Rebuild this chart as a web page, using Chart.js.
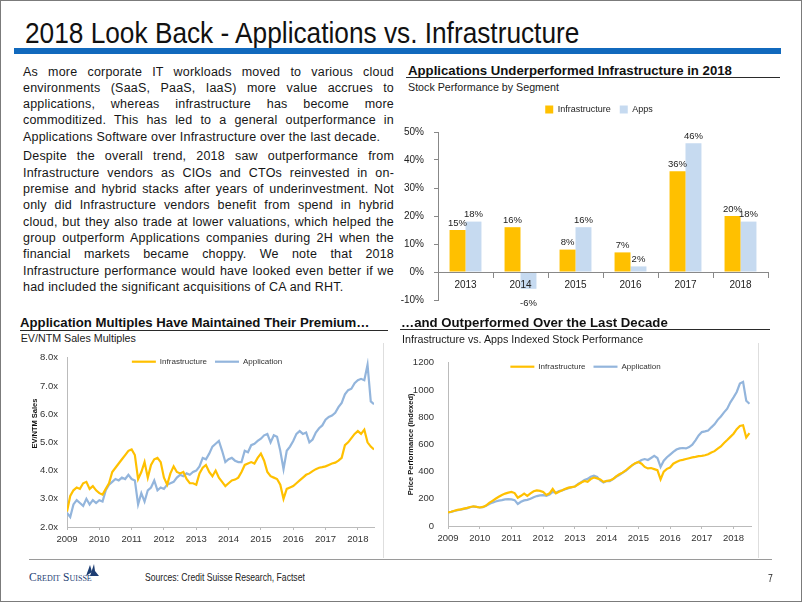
<!DOCTYPE html>
<html>
<head>
<meta charset="utf-8">
<title>2018 Look Back - Applications vs. Infrastructure</title>
<script src="https://cdn.jsdelivr.net/npm/chart.js@4.4.1/dist/chart.umd.min.js"></script>
<style>
  html, body { margin: 0; padding: 0; background: #fff; }
  #slide { position: relative; width: 802px; height: 602px; overflow: hidden;
           font-family: "Liberation Sans", Arial, sans-serif; color: #111; }
  .frame { position: absolute; left: 0; top: 0; width: 802px; height: 602px; box-sizing: border-box;
           border: 1px solid #7b7b7b; pointer-events: none; z-index: 5; }
  .title { position: absolute; left: 25px; top: 18.5px; font-size: 29px; line-height: 29px; white-space: nowrap;
           color: #111; transform: scaleX(0.905); transform-origin: 0 0; }
  .bluebar { position: absolute; left: 14px; top: 48px; width: 767px; height: 6px; background: #1169bd; }
  .text { position: absolute; left: 23px; top: 63.5px; width: 371px; font-size: 12.5px; line-height: 16.3px;
          letter-spacing: 0.2px; color: #161616; }
  .ln { text-align: justify; text-align-last: justify; }
  .ln.last { text-align: left; text-align-last: left; }
  .head { position: absolute; font-weight: bold; font-size: 13.2px; line-height: 13.2px; white-space: nowrap; color: #111; }
  .rule { position: absolute; height: 0; border-top: 1.5px solid #2a2a2a; }
  .sub { position: absolute; font-size: 10.7px; line-height: 10.7px; white-space: nowrap; color: #1a1a1a; }
  .box { position: absolute; }
  .vline { position: absolute; width: 0; border-left: 1px solid #dedede; }
  .foot { position: absolute; font-size: 10.5px; line-height: 12px; color: #222; white-space: nowrap;
          transform: scaleX(0.82); transform-origin: 0 0; }
  .logo { position: absolute; left: 29px; top: 570.5px; font-family: "Liberation Serif", serif; font-variant: small-caps;
          font-size: 11.5px; line-height: 12px; color: #1d3e73; white-space: nowrap; }
</style>
</head>
<body>
<div id="slide">
  <div class="frame"></div>
  <div class="title">2018 Look Back - Applications vs. Infrastructure</div>
  <div class="bluebar"></div>

  <div class="text">
    <div>
      <div class="ln">As more corporate IT workloads moved to various cloud</div>
      <div class="ln">environments (SaaS, PaaS, IaaS) more value accrues to</div>
      <div class="ln">applications, whereas infrastructure has become more</div>
      <div class="ln">commoditized. This has led to a general outperformance in</div>
      <div class="ln last">Applications Software over Infrastructure over the last decade.</div>
    </div>
    <div style="margin-top:3.5px">
      <div class="ln">Despite the overall trend, 2018 saw outperformance from</div>
      <div class="ln">Infrastructure vendors as CIOs and CTOs reinvested in on-</div>
      <div class="ln">premise and hybrid stacks after years of underinvestment. Not</div>
      <div class="ln">only did Infrastructure vendors benefit from spend in hybrid</div>
      <div class="ln">cloud, but they also trade at lower valuations, which helped the</div>
      <div class="ln">group outperform Applications companies during 2H when the</div>
      <div class="ln">financial markets became choppy. We note that 2018</div>
      <div class="ln">Infrastructure performance would have looked even better if we</div>
      <div class="ln last">had included the significant acquisitions of CA and RHT.</div>
    </div>
  </div>

  <div class="head" style="left:408px;top:63.8px">Applications Underperformed Infrastructure in 2018</div>
  <div class="rule" style="left:406px;top:76.5px;width:374px"></div>
  <div class="sub" style="left:408px;top:82.4px">Stock Performance by Segment</div>
  <div class="box" style="left:400px;top:96px;width:385px;height:220px"><canvas id="barChart"></canvas></div>

  <div class="head" style="left:20px;top:315.5px">Application Multiples Have Maintained Their Premium…</div>
  <div class="rule" style="left:20px;top:329.5px;width:368px"></div>
  <div class="sub" style="left:20.7px;top:333.2px">EV/NTM Sales Multiples</div>
  <div class="box" style="left:20px;top:343px;width:362px;height:212px"><canvas id="multChart"></canvas></div>

  <div class="head" style="left:401px;top:315.5px">…and Outperformed Over the Last Decade</div>
  <div class="rule" style="left:400px;top:329px;width:370px"></div>
  <div class="sub" style="left:402px;top:334px">Infrastructure vs. Apps Indexed Stock Performance</div>
  <div class="box" style="left:398px;top:343px;width:380px;height:212px"><canvas id="perfChart"></canvas></div>

  <div class="vline" style="left:383px;top:343px;height:215px"></div>
  <div class="vline" style="left:758px;top:343px;height:215px"></div>
  <div class="rule" style="left:29px;top:558.5px;width:743px;border-top-color:#9a9a9a"></div>

  <div class="logo">Credit Suisse</div>
  <svg style="position:absolute;left:84px;top:563px" width="16" height="14" viewBox="0 0 16 14">
    <path d="M2 13 L6 2 L8 9 Z" fill="#1d3e73"/>
    <path d="M6 13 L10 1 L11 8 L15 13 Z" fill="#1d3e73"/>
  </svg>
  <div class="foot" style="left:145px;top:571px">Sources: Credit Suisse Research, Factset</div>
  <div class="foot" style="left:768px;top:572px">7</div>
</div>

<script>
// Bar chart: yearly stock performance by segment (%)
const barYears = ['2013', '2014', '2015', '2016', '2017', '2018'];
const infraReturns = [15, 16, 8, 7, 36, 20];
const appsReturns = [18, -6, 16, 2, 46, 18];

// Time axis shared by both line charts (fractional years)
const dates = [
  2009.0, 2009.1, 2009.2, 2009.3, 2009.4, 2009.5, 2009.6, 2009.7, 2009.8, 2009.9,
  2010.0, 2010.1, 2010.2, 2010.3, 2010.4, 2010.5, 2010.6, 2010.7, 2010.8, 2010.9,
  2011.0, 2011.1, 2011.2, 2011.3, 2011.4, 2011.5, 2011.6, 2011.7, 2011.8, 2011.9,
  2012.0, 2012.1, 2012.2, 2012.3, 2012.4, 2012.5, 2012.6, 2012.7, 2012.8, 2012.9,
  2013.0, 2013.1, 2013.2, 2013.3, 2013.4, 2013.5, 2013.6, 2013.7, 2013.8, 2013.9,
  2014.0, 2014.1, 2014.2, 2014.3, 2014.4, 2014.5, 2014.6, 2014.7, 2014.8, 2014.9,
  2015.0, 2015.1, 2015.2, 2015.3, 2015.4, 2015.5, 2015.6, 2015.7, 2015.8, 2015.9,
  2016.0, 2016.1, 2016.2, 2016.3, 2016.4, 2016.5, 2016.6, 2016.7, 2016.8, 2016.9,
  2017.0, 2017.1, 2017.2, 2017.3, 2017.4, 2017.5, 2017.6, 2017.7, 2017.8, 2017.9,
  2018.0, 2018.1, 2018.2, 2018.3, 2018.4, 2018.5
];
const yearTicks = [2009, 2010, 2011, 2012, 2013, 2014, 2015, 2016, 2017, 2018];

// EV/NTM sales multiples
const infraMult = [
  2.55, 3.10, 3.30, 3.40, 3.35, 3.55, 3.60, 3.35, 3.45, 3.30,
  3.20, 3.15, 3.35, 3.55, 3.95, 4.10, 4.25, 4.40, 4.55, 4.70,
  4.75, 4.55, 3.70, 3.95, 4.30, 3.75, 4.20, 4.40, 4.45, 4.30,
  3.75, 3.50, 3.90, 4.15, 3.95, 3.90, 3.95, 3.70, 3.55, 3.55,
  3.50, 3.90, 4.10, 4.20, 3.95, 3.80, 4.00, 3.75, 3.60, 3.45,
  3.55, 3.65, 3.68, 3.75, 3.95, 4.20, 4.25, 4.30, 4.25, 4.45,
  4.60, 4.35, 3.95, 3.80, 3.75, 3.70, 3.50, 3.00, 3.35, 3.40,
  3.45, 3.55, 3.65, 3.75, 3.85, 3.90, 3.98, 4.05, 4.10, 4.12,
  4.15, 4.20, 4.25, 4.28, 4.35, 4.45, 4.90, 5.00, 5.15, 5.30,
  5.40, 5.30, 5.45, 5.00, 4.85, 4.75
];
const appMult = [
  2.50, 2.35, 2.80, 2.95, 2.85, 2.75, 3.00, 2.80, 2.95, 2.85,
  2.95, 2.90, 3.30, 3.50, 3.60, 3.70, 3.65, 3.75, 3.70, 3.85,
  3.70, 3.65, 2.80, 3.20, 2.90, 3.30, 3.40, 3.65, 3.30, 3.40,
  3.35, 3.50, 3.55, 3.60, 3.75, 3.85, 3.80, 3.90, 3.85, 3.95,
  4.00, 4.15, 4.45, 4.40, 4.60, 4.85, 4.95, 5.05, 4.70, 4.30,
  4.40, 4.45, 4.35, 4.30, 4.30, 4.70, 4.65, 4.90, 4.95, 5.05,
  5.13, 5.25, 5.30, 5.00, 5.25, 5.20, 4.70, 4.05, 4.70, 4.85,
  5.05, 5.30, 5.40, 5.30, 5.35, 5.00, 5.10, 5.35, 5.50, 5.60,
  5.80, 5.90, 5.95, 6.05, 6.25, 6.40, 6.70, 6.85, 6.90, 7.10,
  7.20, 7.25, 7.20, 7.75, 6.45, 6.35
];
const multTicks = [2, 3, 4, 5, 6, 7, 8];

// Indexed stock performance
const infraPerf = [
  100, 105, 112, 118, 122, 128, 133, 140, 145, 140,
  136, 140, 150, 170, 185, 200, 215, 228, 238, 245,
  250, 242, 208, 222, 238, 222, 240, 255, 262, 258,
  250, 228, 240, 272, 240, 252, 262, 273, 282, 286,
  290, 305, 320, 331, 325, 345, 356, 350, 342, 325,
  331, 335, 345, 365, 380, 392, 408, 428, 446, 462,
  470, 458, 434, 423, 426, 418, 410, 342, 400, 420,
  430, 458, 470, 481, 486, 492, 498, 504, 508, 513,
  515, 520, 527, 540, 550, 568, 585, 610, 632, 655,
  678, 712, 735, 740, 650, 682
];
const appPerf = [
  100, 104, 110, 116, 120, 126, 130, 138, 143, 140,
  136, 138, 148, 162, 172, 180, 186, 190, 196, 198,
  196, 190, 162, 178, 188, 192, 200, 212, 220, 225,
  227, 222, 232, 250, 244, 257, 262, 270, 278, 285,
  290, 310, 322, 338, 346, 362, 370, 360, 335, 320,
  331, 330, 345, 362, 375, 390, 405, 425, 446, 460,
  470, 485, 492, 485, 500, 515, 500, 434, 480, 505,
  525, 545, 562, 570, 573, 570, 580, 597, 630, 665,
  690, 695, 701, 725, 747, 780, 805, 835, 862, 909,
  945, 985, 1047, 1059, 920, 898
];
const perfTicks = [0, 200, 400, 600, 800, 1000, 1200];

const infraColor = '#ffc000';
const appLineColor = '#93b5dc';
const appBarColor = '#c6daf0';

Chart.defaults.font.family = '"Liberation Sans", Arial, sans-serif';
Chart.defaults.font.size = 10;
Chart.defaults.color = '#222';
Chart.defaults.animation = false;

// Fixed legend height (so the plot area lands where it should), drawn unclipped
function legendHeight(h, shiftX) {
  return {
    id: 'legendHeight',
    beforeInit(chart) {
      const legend = chart.legend;
      const fit = legend.fit;
      legend.fit = function () { fit.call(this); this.height = h; };
      legend.draw = function () {
        if (!this.options.display) return;
        const ctx = this.ctx;
        ctx.save();
        ctx.translate(shiftX || 0, 0);
        this._draw();
        ctx.restore();
      };
    }
  };
}

// Value labels above (or below) each bar
const barLabels = {
  id: 'barLabels',
  afterDatasetsDraw(chart) {
    const ctx = chart.ctx;
    ctx.save();
    ctx.font = '9.5px "Liberation Sans", Arial, sans-serif';
    ctx.fillStyle = '#222';
    ctx.textAlign = 'center';
    chart.data.datasets.forEach((ds, i) => {
      chart.getDatasetMeta(i).data.forEach((bar, j) => {
        const v = ds.data[j];
        const y = v >= 0 ? bar.y - 7 : bar.y + 15;
        ctx.fillText(v + '%', bar.x, y);
      });
    });
    ctx.restore();
  }
};

function points(xs, ys) {
  return xs.map((x, i) => ({ x: x, y: ys[i] }));
}

function onlyTicks(list) {
  return function (scale) {
    scale.ticks = list.map(v => ({ value: v }));
  };
}

new Chart(document.getElementById('barChart'), {
  type: 'bar',
  data: {
    labels: barYears,
    datasets: [
      { label: 'Infrastructure', data: infraReturns, backgroundColor: infraColor,
        categoryPercentage: 0.58, barPercentage: 1 },
      { label: 'Apps', data: appsReturns, backgroundColor: appBarColor,
        categoryPercentage: 0.58, barPercentage: 1 }
    ]
  },
  options: {
    responsive: true,
    maintainAspectRatio: false,
    layout: { padding: { top: 0, right: 17, bottom: 8, left: 0 } },
    plugins: {
      legend: {
        labels: { boxWidth: 8, boxHeight: 8, padding: 9, font: { size: 9 }, color: '#222' }
      },
      tooltip: { enabled: false }
    },
    scales: {
      x: {
        position: { y: 0 },
        grid: { offset: true, drawOnChartArea: false, tickLength: 5, color: '#888' },
        border: { color: '#888', z: 1 },
        ticks: { z: 1, padding: 2, font: { size: 10 }, color: '#222' },
        afterFit: s => { s.height = 0; }
      },
      y: {
        min: -10,
        max: 50,
        ticks: { stepSize: 10, padding: 10, callback: v => v + '%', font: { size: 10 }, color: '#222' },
        grid: { drawOnChartArea: false, tickLength: 4, color: '#888' },
        border: { color: '#888' },
        afterFit: s => { s.width = 38; }
      }
    }
  },
  plugins: [legendHeight(36, 15), barLabels]
});

function lineOptions(cfg) {
  return {
    responsive: true,
    maintainAspectRatio: false,
    layout: { padding: { top: 2, right: cfg.padRight, bottom: 0, left: 0 } },
    plugins: {
      legend: {
        labels: { usePointStyle: true, pointStyle: 'line', pointStyleWidth: 24, padding: 8,
                  font: { size: 8 }, color: '#333' }
      },
      tooltip: { enabled: false }
    },
    scales: {
      x: {
        type: 'linear',
        min: 2009,
        max: cfg.xMax,
        afterBuildTicks: onlyTicks(yearTicks),
        ticks: { callback: v => String(v), padding: 4, maxRotation: 0, font: { size: 9.5 }, color: '#333' },
        grid: { drawOnChartArea: false, tickLength: 3, color: '#bbb' },
        border: { color: '#bbb' },
        afterFit: s => { s.height = cfg.xHeight; }
      },
      y: {
        min: cfg.yMin,
        max: cfg.yMax,
        afterBuildTicks: onlyTicks(cfg.yTicks),
        ticks: { callback: cfg.yFormat, padding: cfg.yPad, font: { size: 9.5 }, color: '#333' },
        grid: { display: false, drawTicks: false },
        border: { color: '#bbb' },
        title: { display: true, text: cfg.yTitle, color: '#111',
                 font: { size: 7.5, weight: 'bold' }, padding: { top: cfg.titlePad, bottom: 0 } },
        afterFit: s => { s.width = cfg.yWidth; }
      }
    }
  };
}

new Chart(document.getElementById('multChart'), {
  type: 'line',
  data: {
    datasets: [
      { label: 'Infrastructure', data: points(dates, infraMult), borderColor: infraColor,
        borderWidth: 2.2, pointRadius: 0, tension: 0 },
      { label: 'Application', data: points(dates, appMult), borderColor: appLineColor,
        borderWidth: 2.2, pointRadius: 0, tension: 0 }
    ]
  },
  options: lineOptions({
    padRight: 8, xMax: 2018.5, xHeight: 28, yMin: 2, yMax: 8, yTicks: multTicks,
    yFormat: v => v.toFixed(1) + 'x', yPad: 9,
    // leading em spaces lift the rotated title a little above the axis centre, as in the original
    yTitle: '\u2003\u2003\u2003\u2003\u2003EV/NTM Sales', titlePad: 10, yWidth: 47
  }),
  plugins: [legendHeight(8, 10)]
});

new Chart(document.getElementById('perfChart'), {
  type: 'line',
  data: {
    datasets: [
      { label: 'Infrastructure', data: points(dates, infraPerf), borderColor: infraColor,
        borderWidth: 2.2, pointRadius: 0, tension: 0 },
      { label: 'Application', data: points(dates, appPerf), borderColor: appLineColor,
        borderWidth: 2.2, pointRadius: 0, tension: 0 }
    ]
  },
  options: lineOptions({
    padRight: 27, xMax: 2018.55, xHeight: 29, yMin: 0, yMax: 1200, yTicks: perfTicks,
    yFormat: v => String(v), yPad: 14, yTitle: 'Price Performance (Indexed)', titlePad: 8, yWidth: 50
  }),
  plugins: [legendHeight(8, 11)]
});
</script>
</body>
</html>
